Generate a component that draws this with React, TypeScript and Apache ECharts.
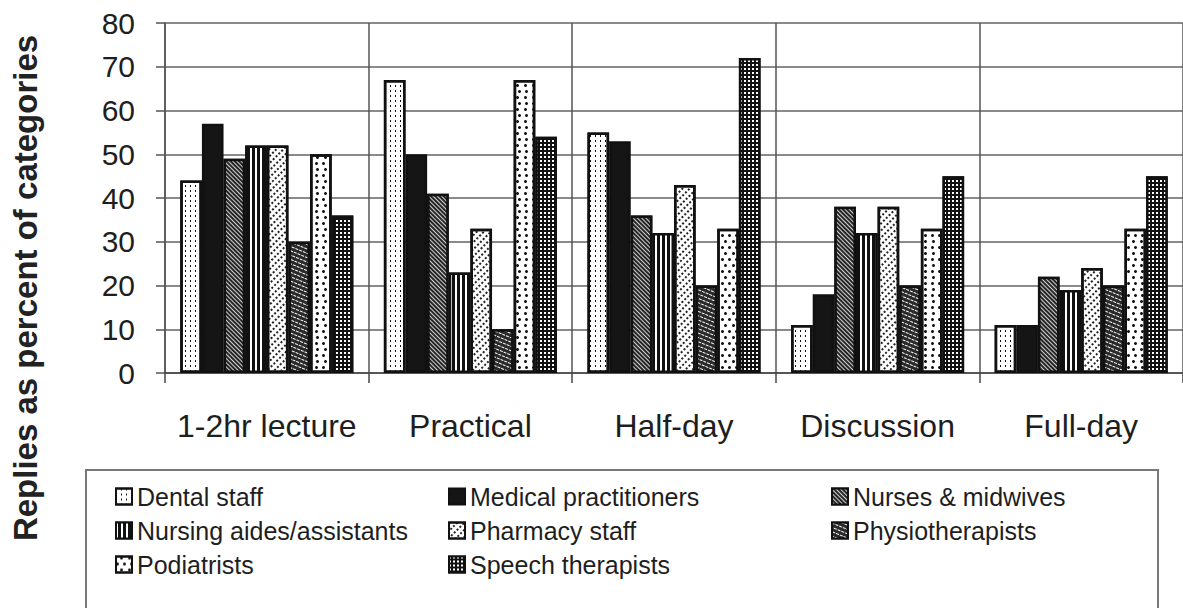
import React, { useEffect, useRef } from "react";
import * as echarts from "echarts";

const categories = ["1-2hr lecture", "Practical", "Half-day", "Discussion", "Full-day"];
const seriesNames = [
  "Dental staff",
  "Medical practitioners",
  "Nurses & midwives",
  "Nursing aides/assistants",
  "Pharmacy staff",
  "Physiotherapists",
  "Podiatrists",
  "Speech therapists",
];
const dentalStaff = [44, 67, 55, 11, 11];
const medicalPractitioners = [57, 50, 53, 18, 11];
const nursesMidwives = [49, 41, 36, 38, 22];
const nursingAides = [52, 23, 32, 32, 19];
const pharmacyStaff = [52, 33, 43, 38, 24];
const physiotherapists = [30, 10, 20, 20, 20];
const podiatrists = [50, 67, 33, 33, 33];
const speechTherapists = [36, 54, 72, 45, 45];
const yTicks = [0, 80, 10];
const yTitle = "Replies as percent of categories";
const legendCol1 = ["Dental staff", "Nursing aides/assistants", "Podiatrists"];
const legendCol2 = ["Medical practitioners", "Pharmacy staff", "Speech therapists"];
const legendCol3 = ["Nurses & midwives", "Physiotherapists"];

const FONT = "'Liberation Sans', Arial, sans-serif";

const styles: any[] = [
  { color: "#ffffff", decal: { symbol: "rect", color: "#111", dashArrayX: [1, 4], dashArrayY: [2, 3], symbolSize: 1 } },
  { color: "#151515" },
  { color: "#262626", decal: { symbol: "rect", color: "#d0d0d0", dashArrayX: [1, 0], dashArrayY: [0.8, 2], rotation: Math.PI / 4, symbolSize: 1 } },
  { color: "#111111", decal: { symbol: "rect", color: "#ffffff", dashArrayX: [2, 3], dashArrayY: [1, 0], symbolSize: 1 } },
  { color: "#ffffff", decal: { symbol: "rect", color: "#222", dashArrayX: [2, 2], dashArrayY: [1.5, 3], rotation: -Math.PI / 4, symbolSize: 1 } },
  { color: "#2a2a2a", decal: { symbol: "rect", color: "#ffffff", dashArrayX: [3, 1], dashArrayY: [1, 2.5], rotation: Math.PI / 8, symbolSize: 1 } },
  { color: "#ffffff", decal: { symbol: "circle", color: "#111", dashArrayX: [[3, 4], [0, 3.5, 3, 0.5]], dashArrayY: [3, 3], symbolSize: 1 } },
  { color: "#111111", decal: { symbol: "rect", color: "#ffffff", dashArrayX: [1.5, 2], dashArrayY: [1.5, 2], symbolSize: 1 } },
];

const allData = [
  dentalStaff,
  medicalPractitioners,
  nursesMidwives,
  nursingAides,
  pharmacyStaff,
  physiotherapists,
  podiatrists,
  speechTherapists,
];

function makeLegend(data: string[], left: number) {
  return {
    orient: "vertical",
    left,
    top: 479,
    itemWidth: 16,
    itemHeight: 16,
    itemGap: 9,
    icon: "rect",
    selectedMode: false,
    data,
    textStyle: { fontSize: 25, color: "#1e1e1e", fontFamily: FONT, lineHeight: 25 },
  };
}

export default function App() {
  const ref = useRef<HTMLDivElement>(null);
  useEffect(() => {
    document.body.style.margin = "0";
    if (!ref.current) return;
    const chart = echarts.init(ref.current, undefined, { renderer: "svg" });
    chart.setOption({
      animation: false,
      backgroundColor: "#ffffff",
      grid: { left: 165, right: -8, top: 23, bottom: 235, containLabel: false },
      xAxis: {
        type: "category",
        data: categories,
        axisLine: { show: true, lineStyle: { color: "#444", width: 1.5 } },
        axisTick: { show: true, interval: 0, length: 10, lineStyle: { color: "#444", width: 1.5 } },
        splitLine: { show: true, interval: 0, lineStyle: { color: "#555", width: 1.5 } },
        axisLabel: { interval: 0, fontSize: 32, color: "#1e1e1e", fontFamily: FONT, margin: 37 },
      },
      yAxis: {
        type: "value",
        min: yTicks[0],
        max: yTicks[1],
        interval: yTicks[2],
        axisLine: { show: true, lineStyle: { color: "#555", width: 1.5 } },
        axisTick: { show: true, length: 9, lineStyle: { color: "#555", width: 1.5 } },
        splitLine: { show: true, lineStyle: { color: "#8a8a8a", width: 2 } },
        axisLabel: { fontSize: 30, color: "#1e1e1e", fontFamily: FONT, margin: 30 },
      },
      legend: [makeLegend(legendCol1, 110), makeLegend(legendCol2, 443), makeLegend(legendCol3, 826)],
      graphic: [
        {
          type: "rect",
          shape: { x: 86, y: 470, width: 1072, height: 170 },
          style: { fill: "none", stroke: "#777", lineWidth: 2 },
          z: -1,
        },
        {
          type: "text",
          x: 25,
          y: 288,
          rotation: Math.PI / 2,
          style: {
            text: yTitle,
            font: `bold 33px ${FONT}`,
            fill: "#222",
            textAlign: "center",
            textVerticalAlign: "middle",
          },
        },
      ],
      series: seriesNames.map((name, i) => ({
        name,
        type: "bar",
        data: allData[i],
        barGap: "0%",
        barCategoryGap: "15%",
        itemStyle: { ...styles[i], borderColor: "#111", borderWidth: 2.5 },
      })),
    });
    return () => chart.dispose();
  }, []);
  return <div ref={ref} style={{ width: 1183, height: 608 }} />;
}
